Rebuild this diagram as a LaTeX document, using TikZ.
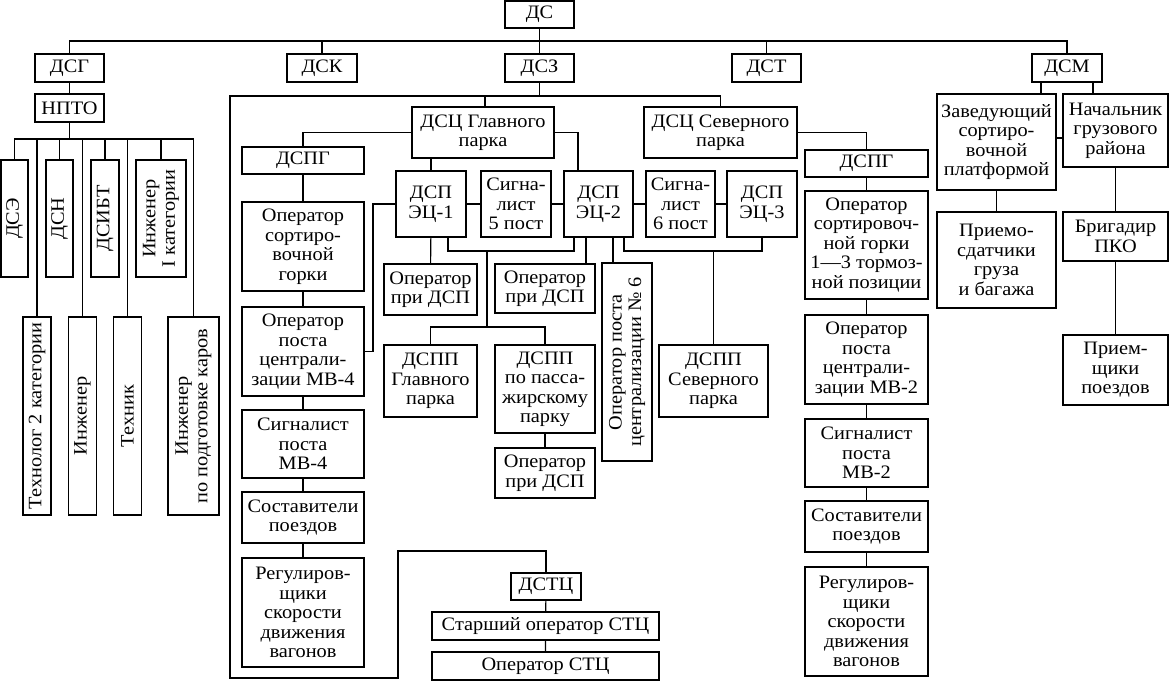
\documentclass[tikz,border=0pt]{standalone}
\usepackage{fontspec}
\setmainfont[FakeStretch=1.07]{Liberation Serif}

\begin{document}
\begin{tikzpicture}[x=1pt, y=-1pt, line width=1.1pt,
    box/.style={draw, align=center, inner sep=1pt,
        font=\fontsize{19}{19.5}\selectfont},
    vbox/.style={box, rotate=90}]
    \useasboundingbox (0,0) rectangle (1169,681);

    % Top level
    \node[box, minimum width=69, minimum height=27] (ds) at (539.5,14.5) {ДС};
    \node[box, minimum width=69, minimum height=28] (dsg) at (69.5,68) {ДСГ};
    \node[box, minimum width=70, minimum height=28] (dsk) at (322,68) {ДСК};
    \node[box, minimum width=69, minimum height=28] (dsz) at (539.5,68) {ДСЗ};
    \node[box, minimum width=69, minimum height=28] (dst) at (766.5,68) {ДСТ};
    \node[box, minimum width=70, minimum height=28] (dsm) at (1067,68) {ДСМ};
    \draw (dsg) -- ++(0,-27) -| (dsm);
    \draw (ds) -- (dsz);
    \draw (dsk) -- ++(0,-27);
    \draw (dst) -- ++(0,-27);

    % DSG branch
    \node[box, minimum width=69, minimum height=28] (npto) at (69.5,108) {НПТО};
    \draw (dsg) -- (npto);
    \node[vbox, minimum width=117, minimum height=27] (dse) at (14.5,218.5) {ДСЭ};
    \node[vbox, minimum width=117, minimum height=27] (dsn) at (59.5,218.5) {ДСН};
    \node[vbox, minimum width=117, minimum height=28] (dsibt) at (105,218.5) {ДСИБТ};
    \node[vbox, minimum width=117, minimum height=50] (ing1) at (161,218.5) {Инженер\\I категории};
    \node[vbox, minimum width=198, minimum height=28] (tech2) at (37,416) {Технолог 2 категории};
    \node[vbox, minimum width=198, minimum height=28] (ing) at (82.5,416) {Инженер};
    \node[vbox, minimum width=198, minimum height=28] (technik) at (127.5,416) {Техник};
    \node[vbox, minimum width=198, minimum height=51] (ingpk) at (193.5,416) {Инженер\\по подготовке каров};
    \coordinate (nb) at (69.5,139);
    \draw (npto) -- (nb);
    \draw (dse) |- (nb) -| (ingpk);
    \foreach \n in {dsn, dsibt, ing1, tech2, ing, technik}
        \draw (\n) -- (\n |- nb);

    % DSZ frame
    \coordinate (zb) at (539.5,96);
    \coordinate (fr1) at (398,551);
    \coordinate (fr2) at (398,678);
    \coordinate (fr3) at (230,96);
    \node[box, minimum width=142, minimum height=51] (dscg) at (483,132.5) {ДСЦ Главного\\парка};
    \node[box, minimum width=153, minimum height=51] (dscs) at (720.5,132.5) {ДСЦ Северного\\парка};
    \node[box, minimum width=70, minimum height=27] (dstc) at (546,586.5) {ДСТЦ};
    \node[box, minimum width=227, minimum height=28] (sopstc) at (545.5,626) {Старший оператор СТЦ};
    \node[box, minimum width=227, minimum height=28] (opstc) at (545.5,666) {Оператор СТЦ};
    \draw (dsz) -- (zb);
    \draw (dstc) |- (fr1) -- (fr2) -| (fr3) -| (dscs);
    \draw ([xshift=2pt]dscg.north) -- ([xshift=2pt]dscg.north |- zb);
    \draw (dstc) -- (sopstc) -- (opstc);

    % DSC of the main yard
    \node[box, minimum width=122, minimum height=27] (dspgl) at (303,160.5) {ДСПГ};
    \node[box, minimum width=122, minimum height=89] (ogl) at (303,246.5) {Оператор\\сортиро-\\вочной\\горки};
    \node[box, minimum width=122, minimum height=89] (mv4) at (303,351.5) {Оператор\\поста\\централи-\\зации МВ-4};
    \node[box, minimum width=122, minimum height=68] (sig4) at (303,444) {Сигналист\\поста\\МВ-4};
    \node[box, minimum width=122, minimum height=51] (sostl) at (303,517.5) {Составители\\поездов};
    \node[box, minimum width=122, minimum height=109] (regl) at (303,612.5) {Регулиров-\\щики\\скорости\\движения\\вагонов};
    \draw (dscg) -| (dspgl);
    \draw (dspgl) -- (ogl) -- (mv4) -- (sig4) -- (sostl) -- (regl);

    \node[box, minimum width=70, minimum height=66] (ec1) at (431,204) {ДСП\\ЭЦ-1};
    \node[box, minimum width=70, minimum height=66] (sig5) at (516,204) {Сигна-\\лист\\5 пост};
    \node[box, minimum width=69, minimum height=66] (ec2) at (598.5,204) {ДСП\\ЭЦ-2};
    \node[box, minimum width=69, minimum height=66] (sig6) at (680.5,204) {Сигна-\\лист\\6 пост};
    \node[box, minimum width=70, minimum height=66] (ec3) at (762,204) {ДСП\\ЭЦ-3};
    \draw (ec1) -- (ec1 |- dscg.south);
    \draw (dscg) -| ([xshift=-20.5pt]ec2.north);
    \draw (ec1) -- (sig5) -- (ec2) -- (sig6) -- (ec3);
    \coordinate (k1) at (373,351.5);
    \draw (ec1) -| (k1) -- (mv4);

    \node[box, minimum width=93, minimum height=51] (opd1) at (430.5,289.5) {Оператор\\при ДСП};
    \node[box, minimum width=100, minimum height=49] (opd2) at (545,288.5) {Оператор\\при ДСП};
    \node[vbox, minimum width=198, minimum height=50] (opc6) at (627,362) {Оператор поста\\централизации № 6};
    \node[box, minimum width=93, minimum height=72] (dspp1) at (430.5,381) {ДСПП\\Главного\\парка};
    \node[box, minimum width=100, minimum height=88] (dspp2) at (545,389) {ДСПП\\по пасса-\\жирскому\\парку};
    \node[box, minimum width=100, minimum height=50] (opd3) at (545,473) {Оператор\\при ДСП};
    \node[box, minimum width=109, minimum height=72] (dspp3) at (713.5,381) {ДСПП\\Северного\\парка};
    \coordinate (b5) at (487,251);
    \coordinate (b6) at (487,327);
    \coordinate (b7) at (713.5,251);
    \draw (ec1) -- (opd1);
    \draw ([xshift=17pt]ec1.south) |- (b5) -| ([xshift=-24.5pt]ec2.south);
    \draw (b5) -- (b6);
    \draw (dspp1) |- (b6) -| (dspp2);
    \draw (dspp2) -- (opd3);
    \draw ([xshift=-12.5pt]ec2.south) -- ([xshift=-12.5pt]ec2.south |- opd2.north);
    \draw ([xshift=14.5pt]ec2.south) -- ([xshift=14.5pt]ec2.south |- opc6.east);
    \draw ([xshift=25.5pt]ec2.south) |- (b7) -| (ec3);
    \draw (b7) -- (dspp3);

    % DSC of the north yard
    \node[box, minimum width=123, minimum height=27] (dspgr) at (866.5,163.5) {ДСПГ};
    \node[box, minimum width=123, minimum height=108] (ogr) at (866.5,245) {Оператор\\сортировоч-\\ной горки\\1—3 тормоз-\\ной позиции};
    \node[box, minimum width=123, minimum height=89] (mv2) at (866.5,359.5) {Оператор\\поста\\централи-\\зации МВ-2};
    \node[box, minimum width=123, minimum height=68] (sig2) at (866.5,453) {Сигналист\\поста\\МВ-2};
    \node[box, minimum width=123, minimum height=51] (sostr) at (866.5,526.5) {Составители\\поездов};
    \node[box, minimum width=123, minimum height=109] (regr) at (866.5,621.5) {Регулиров-\\щики\\скорости\\движения\\вагонов};
    \draw (dscs) -| (dspgr);
    \draw (dspgr) -- (ogr) -- (mv2) -- (sig2) -- (sostr) -- (regr);

    % DSM branch
    \node[box, minimum width=119, minimum height=96] (zav) at (996.5,142) {Заведующий\\сортиро-\\вочной\\платформой};
    \node[box, minimum width=105, minimum height=73] (nach) at (1115.5,130.5) {Начальник\\грузового\\района};
    \node[box, minimum width=119, minimum height=96] (priem) at (996.5,260) {Приемо-\\сдатчики\\груза\\и багажа};
    \node[box, minimum width=105, minimum height=49] (brig) at (1115.5,236.5) {Бригадир\\ПКО};
    \node[box, minimum width=105, minimum height=70] (priemsh) at (1115.5,370) {Прием-\\щики\\поездов};
    \draw ([xshift=-26pt]dsm.south) -- ([xshift=-26pt]dsm.south |- zav.north);
    \draw ([xshift=26pt]dsm.south) -- ([xshift=26pt]dsm.south |- nach.north);
    \draw ([yshift=4pt]zav.east) -- ([yshift=4pt]zav.east -| nach.west);
    \draw (zav) -- (priem);
    \draw (nach) -- (brig) -- (priemsh);
\end{tikzpicture}
\end{document}
